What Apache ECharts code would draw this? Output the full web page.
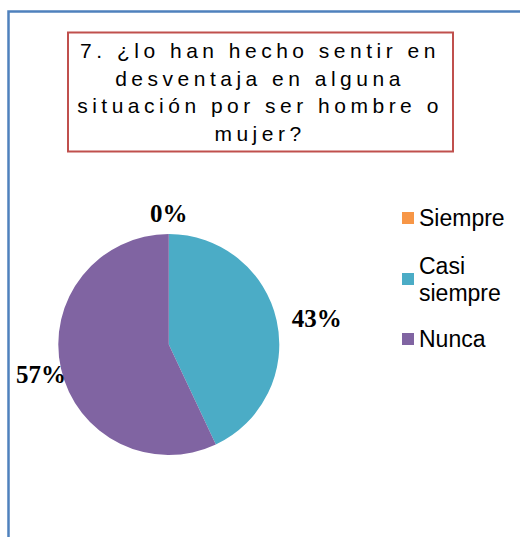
<!DOCTYPE html>
<html>
<head>
<meta charset="utf-8">
<script src="https://cdn.jsdelivr.net/npm/echarts@6/dist/echarts.min.js"></script>
<style>
  html, body { margin: 0; padding: 0; background: #fff; }
  #chart { width: 520px; height: 537px; }
  /* Excel title is drawn with wide tracking */
  #chart text[style*="Helvetica"] { letter-spacing: 4.5px; }
</style>
</head>
<body>
<div id="chart"></div>
<script>
const titleLines = [
  "7. ¿lo han hecho sentir en",
  "desventaja en alguna",
  "situación por ser hombre o",
  "mujer?"
];
const categories = ["Siempre", "Casi siempre", "Nunca"];
const percents = [0, 43, 57];
const colors = ["#f79646", "#4bacc6", "#8064a2"];

// label nudges away from the default outside anchor
const labelShift = [[0, -21], [40, -2], [-20, 6]];

const myChart = echarts.init(document.getElementById("chart"), null, { renderer: "svg" });

let legendBase = {
  orient: "vertical",
  left: 397,
  itemWidth: 12,
  itemHeight: 12,
  icon: "rect",
  selectedMode: false,
  textStyle: {
    fontFamily: "Liberation Sans, Arial",
    fontSize: 23,
    lineHeight: 27,
    color: "#000"
  }
};

const options = {
  animation: false,
  color: colors,
  title: {
    text: titleLines.join("\n"),
    left: "center",
    top: 37,
    padding: 0,
    textStyle: {
      fontFamily: "Liberation Sans, Helvetica",
      fontSize: 21,
      fontWeight: "normal",
      lineHeight: 27.5,
      color: "#000"
    }
  },
  graphic: [
    {
      type: "rect",
      silent: true,
      shape: { x: 8.5, y: 11.5, width: 700, height: 700 },
      style: { fill: "none", stroke: "#4f81bd", lineWidth: 2.5 }
    },
    {
      type: "rect",
      silent: true,
      shape: { x: 68, y: 32.5, width: 385, height: 119 },
      style: { fill: "none", stroke: "#c0504d", lineWidth: 2 }
    }
  ],
  legend: [
    Object.assign({}, legendBase, { top: 199.5, data: [categories[0]] }),
    Object.assign({}, legendBase, {
      top: 233.5,
      data: [categories[1]],
      textStyle: Object.assign({}, legendBase.textStyle, {
        width: 95,
        overflow: "break",
        padding: [27, 0, 0, 0]
      })
    }),
    Object.assign({}, legendBase, { top: 320.5, data: [categories[2]] })
  ],
  series: [
    {
      type: "pie",
      center: [168.8, 344.5],
      radius: 110.5,
      startAngle: 90,
      clockwise: true,
      avoidLabelOverlap: false,
      itemStyle: { borderWidth: 0 },
      label: {
        show: true,
        position: "outside",
        formatter: "{d}%",
        fontFamily: "Liberation Serif",
        fontWeight: "bold",
        fontSize: 25,
        color: "#000",
        distanceToLabelLine: 0
      },
      labelLine: { show: false, length: 0, length2: 0 },
      labelLayout: function (p) {
        return {
          dx: labelShift[p.dataIndex][0],
          dy: labelShift[p.dataIndex][1],
          align: "center"
        };
      },
      data: categories.map(function (name, i) {
        return { name: name, value: percents[i] };
      })
    }
  ]
};

myChart.setOption(options);
</script>
</body>
</html>
